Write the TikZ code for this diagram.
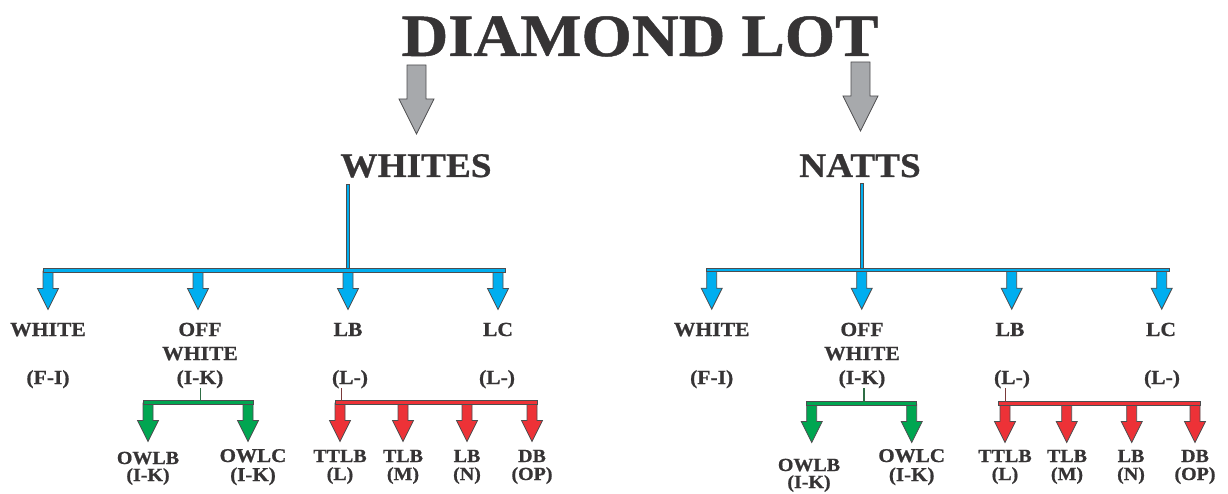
\documentclass[tikz,border=0pt]{standalone}
\usepackage{fontspec}
\setmainfont{Liberation Serif}[FakeStretch=1.08, BoldFeatures={FakeBold=0.8}]
\definecolor{txtc}{HTML}{363435}
\definecolor{olc}{HTML}{4D4D4F}
\definecolor{bluec}{HTML}{00AEEF}
\definecolor{greenc}{HTML}{00A651}
\definecolor{redc}{HTML}{ED3237}
\definecolor{grayc}{HTML}{A7A9AC}
\definecolor{gstem}{HTML}{2F6E45}
\definecolor{rstem}{HTML}{7A3A3A}
\begin{document}
\begin{tikzpicture}[x=1pt,y=-1pt,
  txt/.style={text=txtc, font=\bfseries\fontsize{20}{24}\selectfont, inner sep=0pt, anchor=base},
  head/.style={txt, font=\bfseries\fontsize{34.5}{36}\selectfont},
  sub/.style={txt, font=\bfseries\fontsize{18.5}{20}\selectfont},
  ol/.style={draw=olc, line width=0.8pt, line join=miter},
  pics/drop/.style={code={\draw[ol, fill=#1] (-5,-1) -- (-5,16.5) -- (-10.5,16.5) -- (0,37.5) -- (10.5,16.5) -- (5,16.5) -- (5,-1) -- cycle;}},
  pics/bigdrop/.style={code={\draw[ol, fill=grayc] (-9.5,0) -- (-9.5,34) -- (-17.5,34) -- (0,69) -- (17.5,34) -- (9.5,34) -- (9.5,0) -- cycle;}}
]
\useasboundingbox (0,0) rectangle (1228,494);

% title and gray arrows
\node[txt, font=\bfseries\fontsize{60}{60}\selectfont] (title) at (640,56) {DIAMOND LOT};
\pic at (416.5,65) {bigdrop};
\pic at (860.5,62) {bigdrop};
\node[head] (whites) at (416,177) {WHITES};
\node[head] (natts) at (860,177) {NATTS};

% ---------- left tree ----------
\coordinate (ls) at (348,184);
\foreach \x in {48,198,348,498} \pic at (\x,272) {drop=bluec};
\draw[ol, fill=bluec] (43,268) rectangle (505,272);
\draw[ol, fill=bluec, line width=0.6pt] ([xshift=-1.5pt]ls) rectangle (349.5,268);

\node[txt] (lwhite) at (48,336) {WHITE};
\node[txt] (lwhiteg) at (48,384) {(F-I)};
\node[txt] (loff1) at (200,336) {OFF};
\node[txt] (loff2) at (200,360) {WHITE};
\node[txt] (loffg) at (200,384) {(I-K)};
\node[txt] (llb) at (348,336) {LB};
\node[txt] (llbg) at (350,384) {(L-)};
\node[txt] (llc) at (498,336) {LC};
\node[txt] (llcg) at (497,384) {(L-)};

% green
\foreach \x in {148,248} \pic at (\x,404) {drop=greenc};
\draw[ol, fill=greenc] (143,400.7) rectangle (253,404);
\draw[gstem, line width=1.2pt] (200.7,388) -- (200.7,400.7);
\node[sub] (lowlb) at (148,464) {OWLB};
\node[sub] (lowlbg) at (148,481) {(I-K)};
\node[sub, font=\bfseries\fontsize{19.5}{20}\selectfont] (lowlc) at (253,462) {OWLC};
\node[sub, font=\bfseries\fontsize{19.5}{20}\selectfont] (lowlcg) at (253,481) {(I-K)};

% red
\foreach \x in {340,403,467,532} \pic at (\x,404) {drop=redc};
\draw[ol, fill=redc] (335,400.7) rectangle (537,404);
\draw[rstem, line width=1.2pt] (341.7,388) -- (341.7,400.7);
\node[sub] (lttlb) at (340,462) {TTLB};
\node[sub] (lttlbg) at (340,480) {(L)};
\node[sub] (ltlb) at (403,462) {TLB};
\node[sub] (ltlbg) at (403,480) {(M)};
\node[sub] (llb2) at (467,462) {LB};
\node[sub] (llb2g) at (467,480) {(N)};
\node[sub] (ldb) at (532,462) {DB};
\node[sub] (ldbg) at (532,480) {(OP)};

% ---------- right tree ----------
\coordinate (rs) at (861.7,183);
\foreach \x in {711.7,861.7,1011.7,1161.7} \pic at (\x,271.7) {drop=bluec};
\draw[ol, fill=bluec] (706.7,268.3) rectangle (1169,271.7);
\draw[ol, fill=bluec, line width=0.6pt] ([xshift=-1.5pt]rs) rectangle (863.2,268.3);

\node[txt] (rwhite) at (711.7,336) {WHITE};
\node[txt] (rwhiteg) at (711.7,384) {(F-I)};
\node[txt] (roff1) at (862,336) {OFF};
\node[txt] (roff2) at (862,360) {WHITE};
\node[txt] (roffg) at (862,384) {(I-K)};
\node[txt] (rlb) at (1010,336) {LB};
\node[txt] (rlbg) at (1012,384) {(L-)};
\node[txt] (rlc) at (1161,336) {LC};
\node[txt] (rlcg) at (1162,384) {(L-)};

% green
\foreach \x in {811.7,911.7} \pic at (\x,405) {drop=greenc};
\draw[ol, fill=greenc] (806.7,401.7) rectangle (916.7,405);
\draw[gstem, line width=1.2pt] (864,388) -- (864,401.7);
\node[sub] (rowlb) at (809,471) {OWLB};
\node[sub] (rowlbg) at (809,488) {(I-K)};
\node[sub, font=\bfseries\fontsize{19.5}{20}\selectfont] (rowlc) at (911.7,462) {OWLC};
\node[sub, font=\bfseries\fontsize{19.5}{20}\selectfont] (rowlcg) at (911.7,481) {(I-K)};

% red
\foreach \x in {1005,1066.7,1131.7,1195} \pic at (\x,405) {drop=redc};
\draw[ol, fill=redc] (998,401.7) rectangle (1200,405);
\draw[rstem, line width=1.2pt] (1005.7,388) -- (1005.7,401.7);
\node[sub] (rttlb) at (1005,462) {TTLB};
\node[sub] (rttlbg) at (1005,480) {(L)};
\node[sub] (rtlb) at (1067,462) {TLB};
\node[sub] (rtlbg) at (1067,480) {(M)};
\node[sub] (rlb2) at (1131,462) {LB};
\node[sub] (rlb2g) at (1131,480) {(N)};
\node[sub] (rdb) at (1195,462) {DB};
\node[sub] (rdbg) at (1195,480) {(OP)};
\end{tikzpicture}
\end{document}
